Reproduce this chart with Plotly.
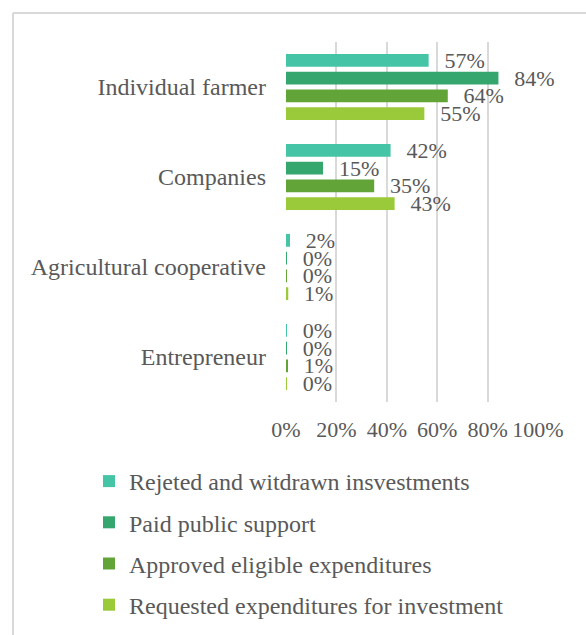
import plotly.graph_objects as go

# categories top -> bottom
categories = ["Individual farmer", "Companies", "Agricultural cooperative", "Entrepreneur"]

# series values (%)
rejected = [56.6, 41.5, 1.6, 0.2]
paid = [84.3, 14.7, 0.2, 0.2]
approved = [64.2, 35.0, 0.2, 0.6]
requested = [54.9, 43.1, 0.9, 0.2]

series_names = [
    "Rejeted and witdrawn insvestments",
    "Paid public support",
    "Approved eligible expenditures",
    "Requested expenditures for investment",
]
series_values = [rejected, paid, approved, requested]
series_colors = ["#45C4A6", "#36A66F", "#63A438", "#9ACA3A"]

x_ticks = [0, 20, 40, 60, 80, 100]

FONT = "Liberation Serif, Times New Roman, serif"
GREY = "#595959"

# plot area in pixels
L, R, T, B = 286, 48, 42, 233
W, H = 586, 635
PW, PH = W - L - R, H - T - B


def px_x(px):
    return (px - L) / PW


def px_y(py):
    return (H - B - py) / PH


fig = go.Figure()
for i, (name, vals, col) in enumerate(zip(series_names, series_values, series_colors)):
    fig.add_trace(go.Bar(
        y=categories, x=vals, name=name, orientation="h",
        marker=dict(color=col, line=dict(width=0)),
        texttemplate="\u00a0\u00a0\u200a%{x:.0f}%", textposition="outside",
        textfont=dict(family=FONT, size=22, color=GREY),
        constraintext="none", cliponaxis=False,
        legendgroup=f"g{i}",
    ))

fig.update_layout(
    width=W, height=H,
    margin=dict(l=L, r=R, t=T, b=B, autoexpand=False),
    paper_bgcolor="white", plot_bgcolor="white",
    barmode="group", bargap=0.21, bargroupgap=0.28,
    font=dict(family=FONT, color=GREY),
    showlegend=True,
    legend=dict(
        x=px_x(89), y=px_y(459), xanchor="left", yanchor="top",
        orientation="v", traceorder="grouped", tracegroupgap=7,
        font=dict(family=FONT, size=24, color=GREY),
        bgcolor="rgba(0,0,0,0)", borderwidth=0,
    ),
    xaxis=dict(
        range=[0, 100], tickvals=x_ticks, ticktext=[f"{t}%" for t in x_ticks],
        showgrid=True, gridcolor="#D9D9D9", gridwidth=1.5,
        zeroline=False, showline=False, ticks="",
        tickfont=dict(family=FONT, size=22, color=GREY),
        ticklabelstandoff=12,
    ),
    yaxis=dict(
        autorange="reversed", showgrid=False, zeroline=False, showline=False,
        ticks="", tickfont=dict(family=FONT, size=24, color=GREY),
        ticklabelstandoff=19,
    ),
    shapes=[
        dict(type="line", xref="paper", yref="paper",
             x0=px_x(13), x1=px_x(600), y0=px_y(13), y1=px_y(13),
             line=dict(color="#D9D9D9", width=2)),
        dict(type="line", xref="paper", yref="paper",
             x0=px_x(13), x1=px_x(13), y0=px_y(13), y1=px_y(650),
             line=dict(color="#D9D9D9", width=2)),
    ],
)

# page body has a default margin; drop it so the figure sits at the window corner
fig.write_html("out.html", config={"displayModeBar": False},
               post_script="document.body.style.margin='0';")
